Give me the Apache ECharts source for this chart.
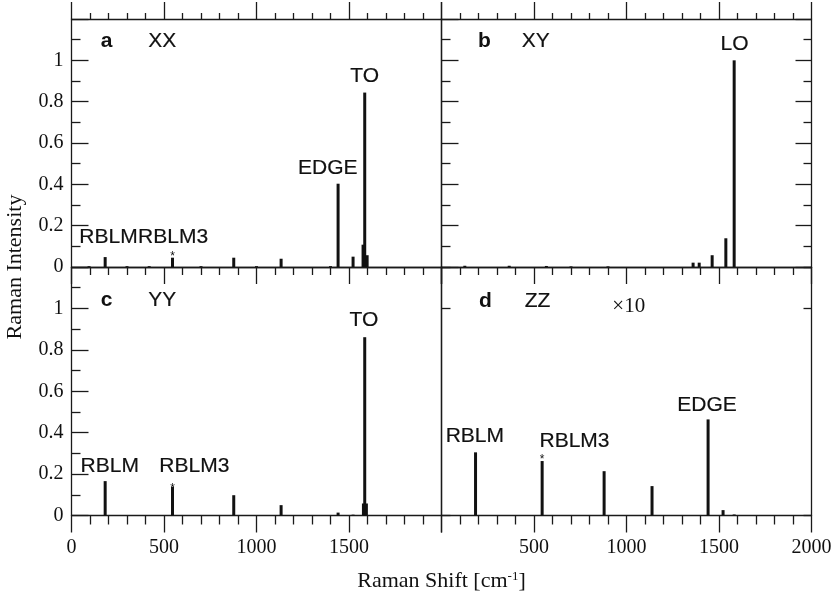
<!DOCTYPE html>
<html>
<head>
<meta charset="utf-8">
<script src="https://cdn.jsdelivr.net/npm/echarts@6/dist/echarts.min.js"></script>
<style>
  html, body { margin: 0; padding: 0; background: #fff; }
  #chart { width: 836px; height: 599px; }
</style>
</head>
<body>
<div id="chart"></div>
<script>
// Raman shift (cm^-1) and relative intensity of each active mode, per polarisation.
const xxShift     = [95, 182, 300, 420, 546, 700, 877, 1000, 1133, 1400, 1441, 1522, 1576, 1585, 1598];
const xxIntensity = [0.004, 0.048, 0.004, 0.004, 0.045, 0.004, 0.045, 0.004, 0.040, 0.004, 0.403, 0.050, 0.108, 0.844, 0.057];

const xyShift     = [126, 366, 567, 700, 900, 1360, 1393, 1463, 1537, 1582];
const xyIntensity = [0.006, 0.006, 0.005, 0.003, 0.003, 0.021, 0.021, 0.057, 0.139, 1.000];

const yyShift     = [182, 546, 877, 1133, 1441, 1522, 1578, 1585, 1594];
const yyIntensity = [0.166, 0.138, 0.098, 0.050, 0.014, 0.004, 0.058, 0.861, 0.058];

// ZZ intensities are shown magnified ten times.
const zzShift     = [184, 544, 879, 1138, 1441, 1522, 1582];
const zzIntensity = [0.305, 0.263, 0.214, 0.142, 0.464, 0.026, 0.005];

// Tick labels printed on the shared axes.
const yTickLabels      = ['0', '0.2', '0.4', '0.6', '0.8', '1'];
const xTickLabelsLeft  = ['0', '500', '1000', '1500'];
const xTickLabelsRight = ['500', '1000', '1500', '2000'];

const SANS  = '"Liberation Sans", Arial, sans-serif';
const SERIF = '"Liberation Serif", "Times New Roman", serif';
const INK   = '#111';
const axisLineStyle = { color: '#1a1a1a', width: 1.3 };

// Peak annotations, placed in data coordinates of each panel.
const annotations = [
  [ // a — XX
    { text: 'a', at: [189, 1.092], bold: true },
    { text: 'XX', at: [491, 1.092] },
    { text: 'TO', at: [1585, 0.923] },
    { text: 'EDGE', at: [1385, 0.48] },
    { text: 'RBLM', at: [200, 0.144] },
    { text: 'RBLM3', at: [549, 0.144] },
    { text: '*', at: [546, 0.049], small: true }
  ],
  [ // b — XY
    { text: 'b', at: [232, 1.092], bold: true },
    { text: 'XY', at: [509, 1.092] },
    { text: 'LO', at: [1584, 1.076] }
  ],
  [ // c — YY
    { text: 'c', at: [189, 1.041], bold: true },
    { text: 'YY', at: [491, 1.041] },
    { text: 'TO', at: [1581, 0.941] },
    { text: 'RBLM', at: [207, 0.237] },
    { text: 'RBLM3', at: [664, 0.237] },
    { text: '*', at: [546, 0.131], small: true }
  ],
  [ // d — ZZ
    { text: 'd', at: [237, 1.033], bold: true },
    { text: 'ZZ', at: [519, 1.033] },
    { text: '×10', at: [1012, 1.011], serif: true },
    { text: 'RBLM', at: [180, 0.385] },
    { text: 'RBLM3', at: [719, 0.36] },
    { text: 'EDGE', at: [1435, 0.535] },
    { text: '*', at: [544, 0.268], small: true }
  ]
];

const panels = [
  { shift: xxShift, intensity: xxIntensity },
  { shift: xyShift, intensity: xyIntensity },
  { shift: yyShift, intensity: yyIntensity },
  { shift: zzShift, intensity: zzIntensity }
];

const grids = [
  { left: 71.5,  top: 19,  width: 370, height: 248 },
  { left: 441.5, top: 19,  width: 370, height: 248 },
  { left: 71.5,  top: 267, width: 370, height: 248.5 },
  { left: 441.5, top: 267, width: 370, height: 248.5 }
].map(g => Object.assign({ containLabel: false, outerBoundsMode: 'none' }, g));

function makeXAxis(gridIndex, position, tick, labels) {
  return {
    type: 'value', gridIndex, position, min: 0, max: 2000, interval: 500,
    axisLine: { show: true, onZero: false, lineStyle: axisLineStyle },
    axisTick: { show: !!tick, inside: false, length: tick ? tick[0] : 0, lineStyle: axisLineStyle },
    minorTick: { show: !!tick, splitNumber: 5, length: tick ? tick[1] : 0, lineStyle: axisLineStyle },
    splitLine: { show: false }, minorSplitLine: { show: false },
    axisLabel: {
      show: !!labels, margin: 22, fontFamily: SERIF, fontSize: 20, color: INK,
      formatter: v => (labels && labels.includes(String(v))) ? String(v) : ''
    }
  };
}

function makeYAxis(gridIndex, position, opts) {
  const o = opts || {};
  return {
    type: 'value', gridIndex, position, min: 0, max: 1.2, interval: o.interval || 0.2,
    axisLine: { show: true, onZero: false, lineStyle: axisLineStyle },
    axisTick: { show: !!o.tick, inside: !!o.inside, length: o.tick ? o.tick[0] : 0, lineStyle: axisLineStyle },
    minorTick: { show: !!(o.tick && o.tick[1]), splitNumber: 2, length: o.tick ? (o.tick[1] || 0) : 0, lineStyle: axisLineStyle },
    splitLine: { show: false }, minorSplitLine: { show: false },
    axisLabel: {
      show: !!o.labels, margin: 8, fontFamily: SERIF, fontSize: 20, color: INK,
      formatter: v => {
        const s = String(Math.round(v * 10) / 10);
        return yTickLabels.includes(s) ? s : '';
      }
    }
  };
}

const xAxes = [
  makeXAxis(0, 'bottom', [17, 8]),       makeXAxis(0, 'top', [17, 6]),
  makeXAxis(1, 'bottom', [17, 8]),       makeXAxis(1, 'top', [17, 6]),
  makeXAxis(2, 'bottom', [17, 9], xTickLabelsLeft),  makeXAxis(2, 'top', null),
  makeXAxis(3, 'bottom', [17, 9], xTickLabelsRight), makeXAxis(3, 'top', null)
];

const yAxes = [
  makeYAxis(0, 'left',  { tick: [17, 9], inside: true, labels: true }),
  makeYAxis(0, 'right', { tick: [17, 9], inside: false }),
  makeYAxis(1, 'left',  {}),
  makeYAxis(1, 'right', { tick: [16, 8], inside: true }),
  makeYAxis(2, 'left',  { tick: [17, 9], inside: true, labels: true }),
  makeYAxis(2, 'right', {}),
  makeYAxis(3, 'left',  { tick: [9, 0], inside: true, interval: 1 }),
  makeYAxis(3, 'right', { tick: [8, 0], inside: true, interval: 1 })
];

const series = [];
panels.forEach((p, i) => {
  series.push({
    type: 'bar', xAxisIndex: 2 * i, yAxisIndex: 2 * i,
    data: p.shift.map((s, k) => [s, p.intensity[k]]),
    barWidth: 3, itemStyle: { color: INK }, silent: true
  });
  series.push({
    type: 'scatter', xAxisIndex: 2 * i, yAxisIndex: 2 * i,
    symbolSize: 0, silent: true,
    data: annotations[i].map(a => ({
      value: a.at, name: a.text,
      label: {
        show: true, position: 'inside', formatter: '{b}',
        color: INK, opacity: 1,
        textBorderColor: INK, textBorderWidth: a.bold || a.small || a.serif ? 0 : 0.2,
        fontFamily: a.serif ? SERIF : SANS,
        fontSize: a.small ? 12 : 21,
        fontWeight: a.bold ? 'bold' : 'normal'
      }
    }))
  });
});

const chart = echarts.init(document.getElementById('chart'), null, { renderer: 'canvas' });
chart.setOption({
  animation: false,
  backgroundColor: '#fff',
  grid: grids,
  xAxis: xAxes,
  yAxis: yAxes,
  series,
  graphic: [
    {
      type: 'text', x: 15.5, y: 267, rotation: Math.PI / 2,
      style: {
        text: 'Raman Intensity', fontFamily: SERIF, fontSize: 22, fill: INK,
        align: 'center', verticalAlign: 'middle'
      }
    },
    {
      type: 'text', x: 441.5, y: 581,
      style: {
        text: '{n|Raman Shift [cm}{s|-1}{n|]}',
        align: 'center', verticalAlign: 'middle', fill: INK,
        fontFamily: SERIF, fontSize: 22,
        rich: {
          n: { fontFamily: SERIF, fontSize: 22, fill: INK },
          s: { fontFamily: SERIF, fontSize: 13, fill: INK, verticalAlign: 'top' }
        }
      }
    }
  ]
});
</script>
</body>
</html>
